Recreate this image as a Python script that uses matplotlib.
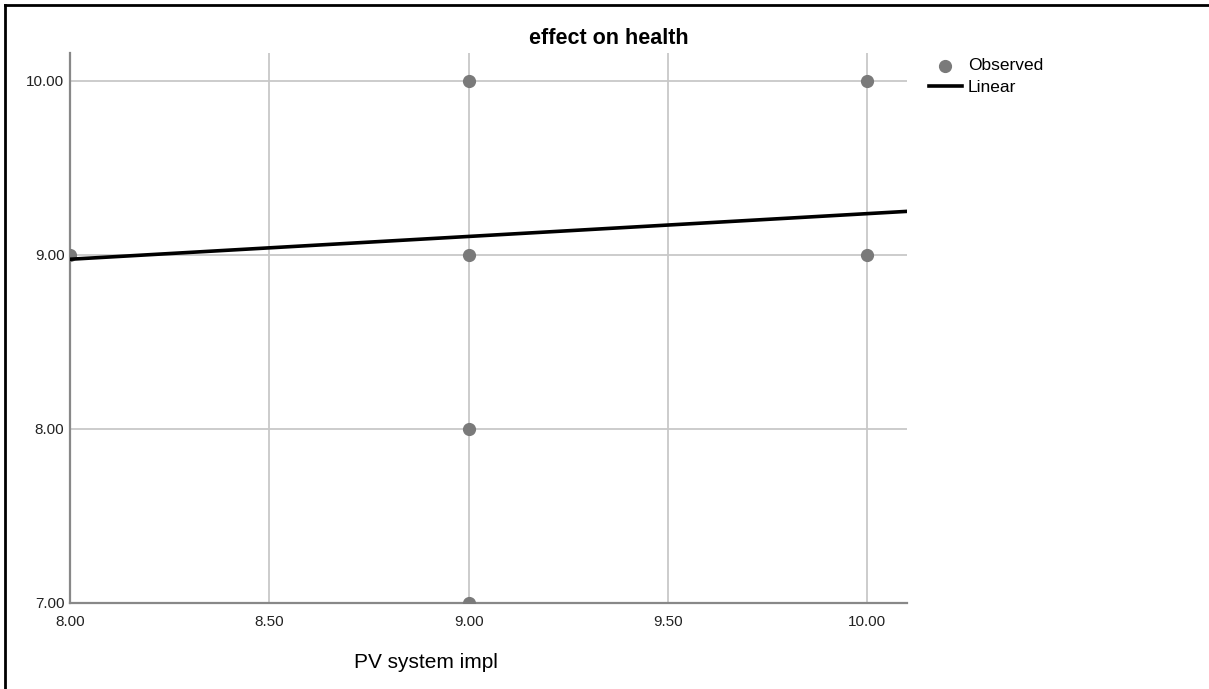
import numpy as np
import matplotlib
matplotlib.use('Agg')
import matplotlib.pyplot as plt
from matplotlib.lines import Line2D

plt.rcParams['font.family'] = ['Liberation Sans', 'DejaVu Sans']

# observed points (PV system impl vs effect on health)
obs_x = [8.0, 9.0, 9.0, 9.0, 9.0, 10.0, 10.0]
obs_y = [9.0, 10.0, 9.0, 8.0, 7.0, 10.0, 9.0]

# linear fit coefficients
b0 = 7.927
b1 = 0.131

xticks = [8.0, 8.5, 9.0, 9.5, 10.0]
yticks = [7.0, 8.0, 9.0, 10.0]

fig = plt.figure(figsize=(12.09, 6.89), dpi=100)
ax = fig.add_axes([70/1209, 1-603/689, (907-70)/1209, (603-53)/689])

ax.set_xlim(8.0, 10.1)
ax.set_ylim(7.0, 10.16)

ax.grid(True, color='#c8c8c8', lw=1.3, zorder=0)
ax.set_axisbelow(True)

ax.scatter(obs_x, obs_y, s=72, color='#7a7a7a', zorder=3, label='Observed')
xl = np.array([8.0, 10.1])
ax.plot(xl, b0 + b1*xl, color='black', lw=2.6, zorder=4, label='Linear')

ax.set_xticks(xticks)
ax.set_yticks(yticks)
ax.set_xticklabels(['%.2f' % v for v in xticks])
ax.set_yticklabels(['%.2f' % v for v in yticks])
ax.tick_params(length=0, labelsize=11, labelcolor='#222222')
ax.tick_params(axis='x', pad=9)
ax.tick_params(axis='y', pad=4)

for s in ['top', 'right']:
    ax.spines[s].set_visible(False)
for s in ['left', 'bottom']:
    ax.spines[s].set_color('#888888')
    ax.spines[s].set_linewidth(1.6)

fig.text(609/1209, 1-38/689, 'effect on health', ha='center', va='center',
         fontsize=15.5, fontweight='bold')
fig.text(426/1209, 1-662/689, 'PV system impl', ha='center', va='center',
         fontsize=15)

ax.legend(loc='upper left', bbox_to_anchor=(929/1209, 1-58/689),
          bbox_transform=fig.transFigure, frameon=False, fontsize=12.5,
          handlelength=1.9, handletextpad=0.35, labelspacing=0.4,
          borderpad=0, borderaxespad=0)

# outer frame (only left and top edges visible)
fig.add_artist(Line2D([5/1209, 5/1209], [0, 1-5/689], transform=fig.transFigure,
                      color='black', lw=2))
fig.add_artist(Line2D([5/1209, 1], [1-5/689, 1-5/689], transform=fig.transFigure,
                      color='black', lw=2))

fig.savefig('out.png', dpi=100)
